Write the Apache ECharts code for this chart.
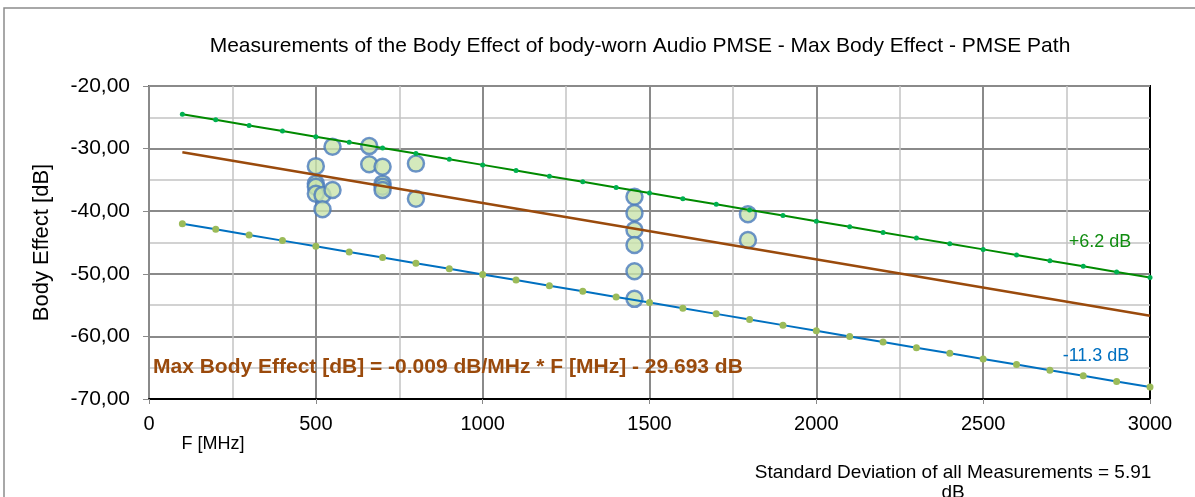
<!DOCTYPE html>
<html>
<head>
<meta charset="utf-8">
<script src="https://cdn.jsdelivr.net/npm/echarts@6/dist/echarts.min.js"></script>
<style>
  html, body { margin: 0; padding: 0; background: #fff; }
  #chart { width: 1195px; height: 497px; }
</style>
</head>
<body>
<div id="chart"></div>
<script>
// frequencies of the limit line points [MHz]
var freqs = [100, 200, 300, 400, 500, 600, 700, 800, 900, 1000,
  1100, 1200, 1300, 1400, 1500, 1600, 1700, 1800, 1900, 2000,
  2100, 2200, 2300, 2400, 2500, 2600, 2700, 2800, 2900, 3000]
// +6.2 dB line
var upperDb = [-24.5, -25.4, -26.3, -27.2, -28.1, -29.0, -29.9, -30.8, -31.7, -32.6,
  -33.5, -34.4, -35.3, -36.2, -37.1, -38.0, -38.9, -39.8, -40.7, -41.6,
  -42.5, -43.4, -44.3, -45.2, -46.1, -47.0, -47.9, -48.8, -49.7, -50.6]
// -11.3 dB line
var lowerDb = [-42.0, -42.9, -43.8, -44.7, -45.6, -46.5, -47.4, -48.3, -49.2, -50.1,
  -51.0, -51.9, -52.8, -53.7, -54.6, -55.5, -56.4, -57.3, -58.2, -59.1,
  -60.0, -60.9, -61.8, -62.7, -63.6, -64.5, -65.4, -66.3, -67.2, -68.1]
// regression line end points
var fitF = [100, 3000]
var fitDb = [-30.6, -56.7]
// measurements
var measF = [500, 500, 500, 500, 520, 520, 550, 550, 660, 660,
  700, 700, 700, 700, 800, 800,
  1455, 1455, 1455, 1455, 1455, 1455, 1795, 1795]
var measDb = [-32.8, -35.6, -36.1, -37.2, -37.4, -39.7, -29.7, -36.6, -29.6, -32.5,
  -32.9, -35.6, -36.1, -36.6, -32.4, -38.0,
  -37.7, -40.3, -43.0, -45.4, -49.6, -54.0, -40.5, -44.6]

function pairs (xs, ys) {
  return xs.map(function (x, i) { return [x, ys[i]] })
}

var FONT = '"Liberation Sans", Arial, sans-serif'
var brown = '#9a4a0c'

var option = {
  animation: false,
  backgroundColor: '#fff',
  grid: {
    left: 149,
    right: 45,
    top: 86,
    bottom: 98,
    show: true,
    borderColor: '#000',
    borderWidth: 2
  },
  xAxis: {
    type: 'value',
    min: 0,
    max: 3000,
    interval: 500,
    axisLine: { lineStyle: { color: '#000', width: 2 } },
    axisTick: { show: true, length: 5, lineStyle: { color: '#888' } },
    axisLabel: {
      color: '#000', fontSize: 20, fontFamily: FONT, margin: 15,
      formatter: function (v) { return String(v) }
    },
    splitLine: { show: true, showMaxLine: false, lineStyle: { color: '#8a8a8a', width: 2 } },
    minorTick: { show: false, splitNumber: 2 },
    minorSplitLine: { show: true, lineStyle: { color: '#c4c4c4', width: 1.5 } }
  },
  yAxis: {
    type: 'value',
    min: -70,
    max: -20,
    interval: 10,
    name: 'Body Effect [dB]',
    nameLocation: 'middle',
    nameGap: 96,
    nameRotate: 90,
    nameTextStyle: { color: '#000', fontSize: 22, fontFamily: FONT },
    axisLine: { show: true, lineStyle: { color: '#8a8a8a', width: 2 } },
    axisTick: { show: true, length: 6, lineStyle: { color: '#8a8a8a' } },
    axisLabel: {
      color: '#000',
      fontSize: 21,
      fontFamily: FONT,
      margin: 19,
      formatter: function (v) { return v.toFixed(2).replace('.', ',') }
    },
    splitLine: { show: true, showMinLine: false, lineStyle: { color: '#8a8a8a', width: 2 } },
    minorTick: { show: false, splitNumber: 2 },
    minorSplitLine: { show: true, lineStyle: { color: '#c4c4c4', width: 1.5 } }
  },
  series: [
    {
      name: 'Measurements',
      type: 'scatter',
      data: pairs(measF, measDb),
      symbol: 'circle',
      symbolSize: 16,
      itemStyle: { color: '#c9e4ab', borderColor: '#4a7bbd', borderWidth: 2.5 },
      z: 2
    },
    {
      name: 'Fit',
      type: 'line',
      data: pairs(fitF, fitDb),
      showSymbol: false,
      lineStyle: { color: brown, width: 2.5 },
      z: 3
    },
    {
      name: '+6.2 dB',
      type: 'line',
      data: pairs(freqs, upperDb),
      symbol: 'circle',
      symbolSize: 5,
      itemStyle: { color: '#00b050' },
      lineStyle: { color: '#008a00', width: 2 },
      z: 3
    },
    {
      name: '-11.3 dB',
      type: 'line',
      data: pairs(freqs, lowerDb),
      symbol: 'circle',
      symbolSize: 7,
      itemStyle: { color: '#9bbb59' },
      lineStyle: { color: '#0070c0', width: 2 },
      z: 3
    }
  ],
  graphic: [
    // outer chart border
    { type: 'rect', shape: { x: 4, y: 8, width: 1300, height: 600 },
      style: { fill: 'none', stroke: '#8c8c8c', lineWidth: 1.5 }, z: 0 },
    { type: 'text', style: { x: 640, y: 46, text: 'Measurements of the Body Effect of body-worn Audio PMSE - Max Body Effect - PMSE Path',
      font: '21px ' + FONT, fill: '#000', textAlign: 'center', textVerticalAlign: 'middle' } },
    { type: 'text', style: { x: 213, y: 444, text: 'F [MHz]',
      font: '18px ' + FONT, fill: '#000', textAlign: 'center', textVerticalAlign: 'middle' } },
    { type: 'text', style: { x: 1100, y: 242, text: '+6.2 dB',
      font: '18px ' + FONT, fill: '#108c10', textAlign: 'center', textVerticalAlign: 'middle' }, z: 10 },
    { type: 'text', style: { x: 1096, y: 356, text: '-11.3 dB',
      font: '18px ' + FONT, fill: '#0070c0', textAlign: 'center', textVerticalAlign: 'middle' }, z: 10 },
    { type: 'text', style: { x: 153, y: 367, text: 'Max Body Effect [dB] = -0.009 dB/MHz * F [MHz] - 29.693 dB',
      font: 'bold 21px ' + FONT, fill: brown, textAlign: 'left', textVerticalAlign: 'middle' }, z: 10 },
    { type: 'text', style: { x: 953, y: 463, text: 'Standard Deviation of all Measurements = 5.91\ndB',
      font: '19px ' + FONT, fill: '#000', textAlign: 'center', textVerticalAlign: 'top', lineHeight: 20 } }
  ]
}

var myChart = echarts.init(document.getElementById('chart'))
myChart.setOption(option)
</script>
</body>
</html>
